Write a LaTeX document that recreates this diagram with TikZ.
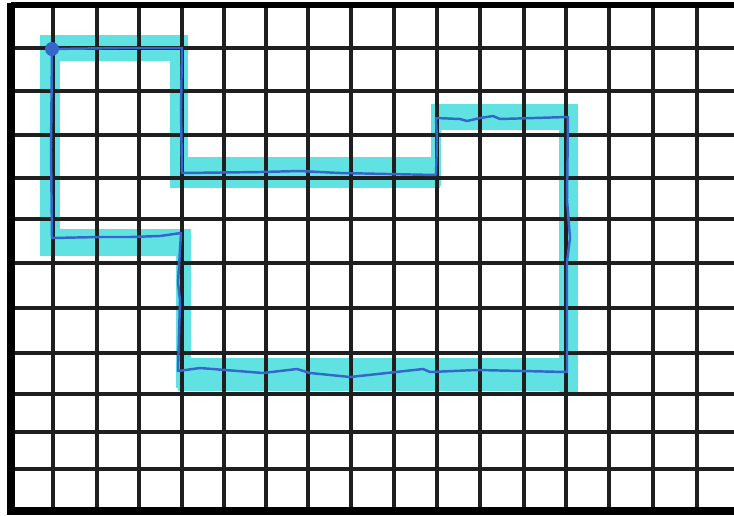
\documentclass[tikz,border=0pt]{standalone}
\usepackage{xcolor}
\usepackage{tikz}
\definecolor{hilite}{RGB}{96,226,226}
\definecolor{penblue}{RGB}{52,102,204}

\begin{document}
\begin{tikzpicture}[x=0.02cm,y=-0.02cm,line cap=round,line join=round,
  gridline/.style={line width=2.1pt,black!88,line cap=butt},
  border/.style={line width=3pt,black,line cap=butt},
  marker/.style={fill=hilite},
  pen/.style={line width=1.4pt,penblue}]
  \useasboundingbox (0,0) rectangle (734,515);
  \fill[white] (0,0) rectangle (734,515);

  % Highlighter band under the grid.
  \fill[marker] (40,35) rectangle (186,61);
  \fill[marker] (170,35) rectangle (188,185);
  \fill[marker] (170,157) rectangle (440,188);
  \fill[marker] (431,105) rectangle (441,186);
  \fill[marker] (431,104) rectangle (578,130);
  \fill[marker] (559,104) rectangle (578,392);
  \fill[marker] (178,358) rectangle (578,391);
  \fill[marker] (176,229) rectangle (191,388);
  \fill[marker] (45,229) rectangle (191,256);
  \fill[marker] (40,35) rectangle (60,256);

  % Grid.
  \foreach \x in {53,97,139,182,224,266,308,351,394,437,480,524,566,609,653,697}
    \draw[gridline] (\x,5) -- (\x,511);
  \foreach \y in {48,91,135,178,219,263,308,353,394,432,469}
    \draw[gridline] (11,\y) -- (734,\y);
  \draw[border] (11,5) -- (734,5);
  \draw[border,line width=4.6pt] (11,511) -- (734,511);
  \draw[border,line width=4.8pt] (11,3) -- (11,515);

  % Traced path.
  \coordinate (start) at (52,49);
  \draw[pen] (start) -- (120,48) -- (182,48)
    -- (181,110) -- (182,173)
    -- (260,172) -- (300,171) -- (340,173) -- (436,175)
    -- (437,140) -- (436,118)
    -- (460,119) -- (467,121) -- (480,118) -- (493,116) -- (500,119) -- (568,117)
    -- (567,200) -- (570,238) -- (567,262) -- (567,372)
    -- (477,370) -- (430,372) -- (423,369) -- (387,373) -- (350,377)
    -- (310,373) -- (297,369) -- (263,373) -- (200,368) -- (178,371)
    -- (180,300) -- (178,283) -- (181,233)
    -- (160,236) -- (130,237) -- (100,237) -- (52,238)
    -- (51,150) -- (start);
  \fill[penblue] (start) circle (7);
\end{tikzpicture}
\end{document}
